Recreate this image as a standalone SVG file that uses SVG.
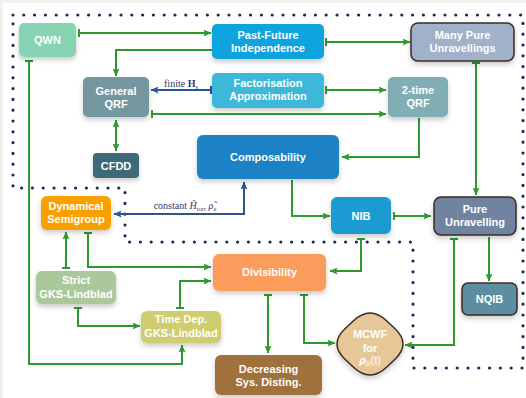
<svg xmlns="http://www.w3.org/2000/svg" width="526" height="398" viewBox="0 0 526 398">
<defs>
<style>
.t{font-family:"Liberation Sans",Arial,sans-serif;font-weight:bold;font-size:11px;fill:#ffffff;text-anchor:middle}
.g{fill:none;stroke:#2e9a2e;stroke-width:2}
.b{fill:none;stroke:#2a5590;stroke-width:2}
.dk{stroke:#3d2b25;stroke-width:1.5}
.lbl{font-family:"Liberation Serif","Times New Roman",serif;font-size:10px;fill:#2a3a6a}
</style>
<filter id="sh" x="-20%" y="-20%" width="140%" height="160%">
<feDropShadow dx="0" dy="3" stdDeviation="2.5" flood-color="#000" flood-opacity="0.2"/>
</filter>
<marker id="ag" viewBox="0 0 8 7" refX="7.5" refY="3.5" markerWidth="8" markerHeight="7" markerUnits="userSpaceOnUse" orient="auto-start-reverse">
<path d="M0,0 L8,3.5 L0,7 L1.5,3.5 Z" fill="#2e9a2e"/>
</marker>
<marker id="bg" viewBox="0 0 2 8" refX="1" refY="4" markerWidth="2" markerHeight="8" markerUnits="userSpaceOnUse" orient="auto">
<rect x="0" y="0" width="2" height="8" fill="#2e9a2e"/>
</marker>
<marker id="ab" viewBox="0 0 8 7" refX="7.5" refY="3.5" markerWidth="8" markerHeight="7" markerUnits="userSpaceOnUse" orient="auto-start-reverse">
<path d="M0,0 L8,3.5 L0,7 L1.5,3.5 Z" fill="#2a5590"/>
</marker>
<marker id="bb" viewBox="0 0 2 8" refX="1" refY="4" markerWidth="2" markerHeight="8" markerUnits="userSpaceOnUse" orient="auto">
<rect x="0" y="0" width="2" height="8" fill="#2a5590"/>
</marker>
</defs>
<rect x="0" y="0" width="526" height="398" fill="#f1f1f1"/>
<rect x="3" y="3" width="523" height="395" fill="#ffffff"/>
<path d="M13,15 H523 V368 H413 V242 H125 V188 H13 Z" fill="none" stroke="#1b2a5c" stroke-width="3.2" stroke-linecap="round" stroke-dasharray="0 10.8"/>

<g id="connectors">
<path class="g" d="M79,33 H211" marker-start="url(#bg)" marker-end="url(#ag)"/>
<path class="g" d="M212,50 H116 V76" marker-end="url(#ag)"/>
<path class="g" d="M326,42 H410" marker-start="url(#bg)" marker-end="url(#ag)"/>
<path class="b" d="M211,90 H151" marker-start="url(#bb)" marker-end="url(#ab)"/>
<path class="g" d="M326,90 H386" marker-start="url(#bg)" marker-end="url(#ag)"/>
<path class="g" d="M152,114 H386" marker-start="url(#bg)" marker-end="url(#ag)"/>
<path class="g" d="M116,120 V151" marker-start="url(#ag)" marker-end="url(#ag)"/>
<path class="g" d="M419,118 V157 H342" marker-end="url(#ag)"/>
<path class="g" d="M476,63 V195" marker-start="url(#bg)" marker-end="url(#ag)"/>
<path class="g" d="M292,180 V216 H330" marker-end="url(#ag)"/>
<path class="b" d="M114,214 H244 V182" marker-start="url(#ab)" marker-end="url(#ab)"/>
<path class="g" d="M394,216 H431" marker-start="url(#bg)" marker-end="url(#ag)"/>
<path class="g" d="M361,239 V271 H330" marker-start="url(#bg)" marker-end="url(#ag)"/>
<path class="g" d="M489,237 V281" marker-end="url(#ag)"/>
<path class="g" d="M454,239 V345 H405" marker-start="url(#bg)" marker-end="url(#ag)"/>
<path class="g" d="M66,268 V232" marker-start="url(#bg)" marker-end="url(#ag)"/>
<path class="g" d="M88,233 V267 H211" marker-start="url(#bg)" marker-end="url(#ag)"/>
<path class="g" d="M180,308 V281 H211" marker-start="url(#bg)" marker-end="url(#ag)"/>
<path class="g" d="M78,308 V326 H140" marker-start="url(#bg)" marker-end="url(#ag)"/>
<path class="g" d="M29,61 V364 H182 V345" marker-start="url(#bg)" marker-end="url(#ag)"/>
<path class="g" d="M268,295 V353" marker-start="url(#bg)" marker-end="url(#ag)"/>
<path class="g" d="M304,295 V343 H335" marker-start="url(#bg)" marker-end="url(#ag)"/>
<text class="lbl" x="181" y="87" text-anchor="middle">finite <tspan font-weight="bold">H</tspan><tspan font-size="6.5" dy="2">s</tspan></text>
<text class="lbl" x="185" y="209" text-anchor="middle">constant <tspan font-style="italic">Ĥ</tspan><tspan font-size="6.5" dy="2">tot</tspan><tspan dy="-2">, </tspan><tspan font-style="italic">ρ̃</tspan><tspan font-size="6.5" dy="2">e</tspan></text>
</g>

<g id="qwn"><rect x="19" y="23" width="57" height="34" rx="5" fill="#86d4b4" filter="url(#sh)"/><text class="t" x="47.5" y="44">QWN</text></g>
<g id="past-future"><rect x="212" y="24" width="112" height="35" rx="5" fill="#0aa3de" filter="url(#sh)"/><text class="t" x="268" y="39">Past-Future</text><text class="t" x="268" y="52">Independence</text></g>
<g id="many-pure"><rect x="411" y="23" width="103" height="38" rx="7" fill="#a0b1c9" class="dk" filter="url(#sh)"/><text class="t" x="462.5" y="39">Many Pure</text><text class="t" x="462.5" y="52">Unravellings</text></g>
<g id="general-qrf"><rect x="83" y="77" width="66" height="40" rx="5" fill="#74979f" filter="url(#sh)"/><text class="t" x="116" y="95">General</text><text class="t" x="116" y="108">QRF</text></g>
<g id="factorisation"><rect x="212" y="73" width="112" height="35" rx="5" fill="#3db8d9" filter="url(#sh)"/><text class="t" x="268" y="87">Factorisation</text><text class="t" x="268" y="100">Approximation</text></g>
<g id="two-time-qrf"><rect x="388" y="77" width="60" height="40" rx="5" fill="#80aeb4" filter="url(#sh)"/><text class="t" x="418" y="94">2-time</text><text class="t" x="418" y="107">QRF</text></g>
<g id="cfdd"><rect x="93" y="153" width="46" height="25" rx="4" fill="#3c6b76" filter="url(#sh)"/><text class="t" x="116" y="169.5">CFDD</text></g>
<g id="composability"><rect x="197" y="135" width="142" height="44" rx="6" fill="#1e82c5" filter="url(#sh)"/><text class="t" x="268" y="161">Composability</text></g>
<g id="nib"><rect x="331" y="197" width="60" height="37" rx="6" fill="#1f9bd2" filter="url(#sh)"/><text class="t" x="361" y="219.5">NIB</text></g>
<g id="pure-unravelling"><rect x="434" y="197" width="82" height="38" rx="7" fill="#6f84a1" class="dk" filter="url(#sh)"/><text class="t" x="475" y="213">Pure</text><text class="t" x="475" y="226">Unravelling</text></g>
<g id="nqib"><rect x="462" y="283" width="55" height="32" rx="6" fill="#5b8da0" class="dk" filter="url(#sh)"/><text class="t" x="489.5" y="303">NQIB</text></g>
<g id="dynamical-semigroup"><rect x="41" y="196" width="70" height="34" rx="6" fill="#f8a000" filter="url(#sh)"/><text class="t" x="76" y="210">Dynamical</text><text class="t" x="76" y="223">Semigroup</text></g>
<g id="divisibility"><rect x="213" y="254" width="113" height="37" rx="6" fill="#fb9b5c" filter="url(#sh)"/><text class="t" x="269.5" y="276">Divisibility</text></g>
<g id="strict-gks"><rect x="36" y="271" width="80" height="33" rx="6" fill="#abc89b" filter="url(#sh)"/><text class="t" x="76" y="284">Strict</text><text class="t" x="76" y="298">GKS-Lindblad</text></g>
<g id="time-dep-gks"><rect x="141" y="311" width="80" height="32" rx="6" fill="#cfcd6f" filter="url(#sh)"/><text class="t" x="181" y="323">Time Dep.</text><text class="t" x="181" y="337">GKS-Lindblad</text></g>
<g id="decreasing"><rect x="215" y="355" width="107" height="40" rx="6" fill="#a0703e" filter="url(#sh)"/><text class="t" x="268.5" y="373">Decreasing</text><text class="t" x="268.5" y="386">Sys. Disting.</text></g>
<g id="mcwf"><path d="M386.5,320.75 L394.75,328.5 Q411.25,344 394.75,359.5 L386.5,367.25 Q370,382.75 353.5,367.25 L345.25,359.5 Q328.75,344 345.25,328.5 L353.5,320.75 Q370,305.25 386.5,320.75 Z" fill="#e6c898" class="dk" filter="url(#sh)"/><text class="t" x="370" y="338">MCWF</text><text class="t" x="370" y="351.5">for</text><text class="t" x="370" y="364"><tspan font-style="italic">ρ</tspan><tspan font-size="7" font-weight="normal" dy="1.5">S</tspan><tspan dy="-1.5" font-weight="normal">(t)</tspan></text></g>
</svg>
